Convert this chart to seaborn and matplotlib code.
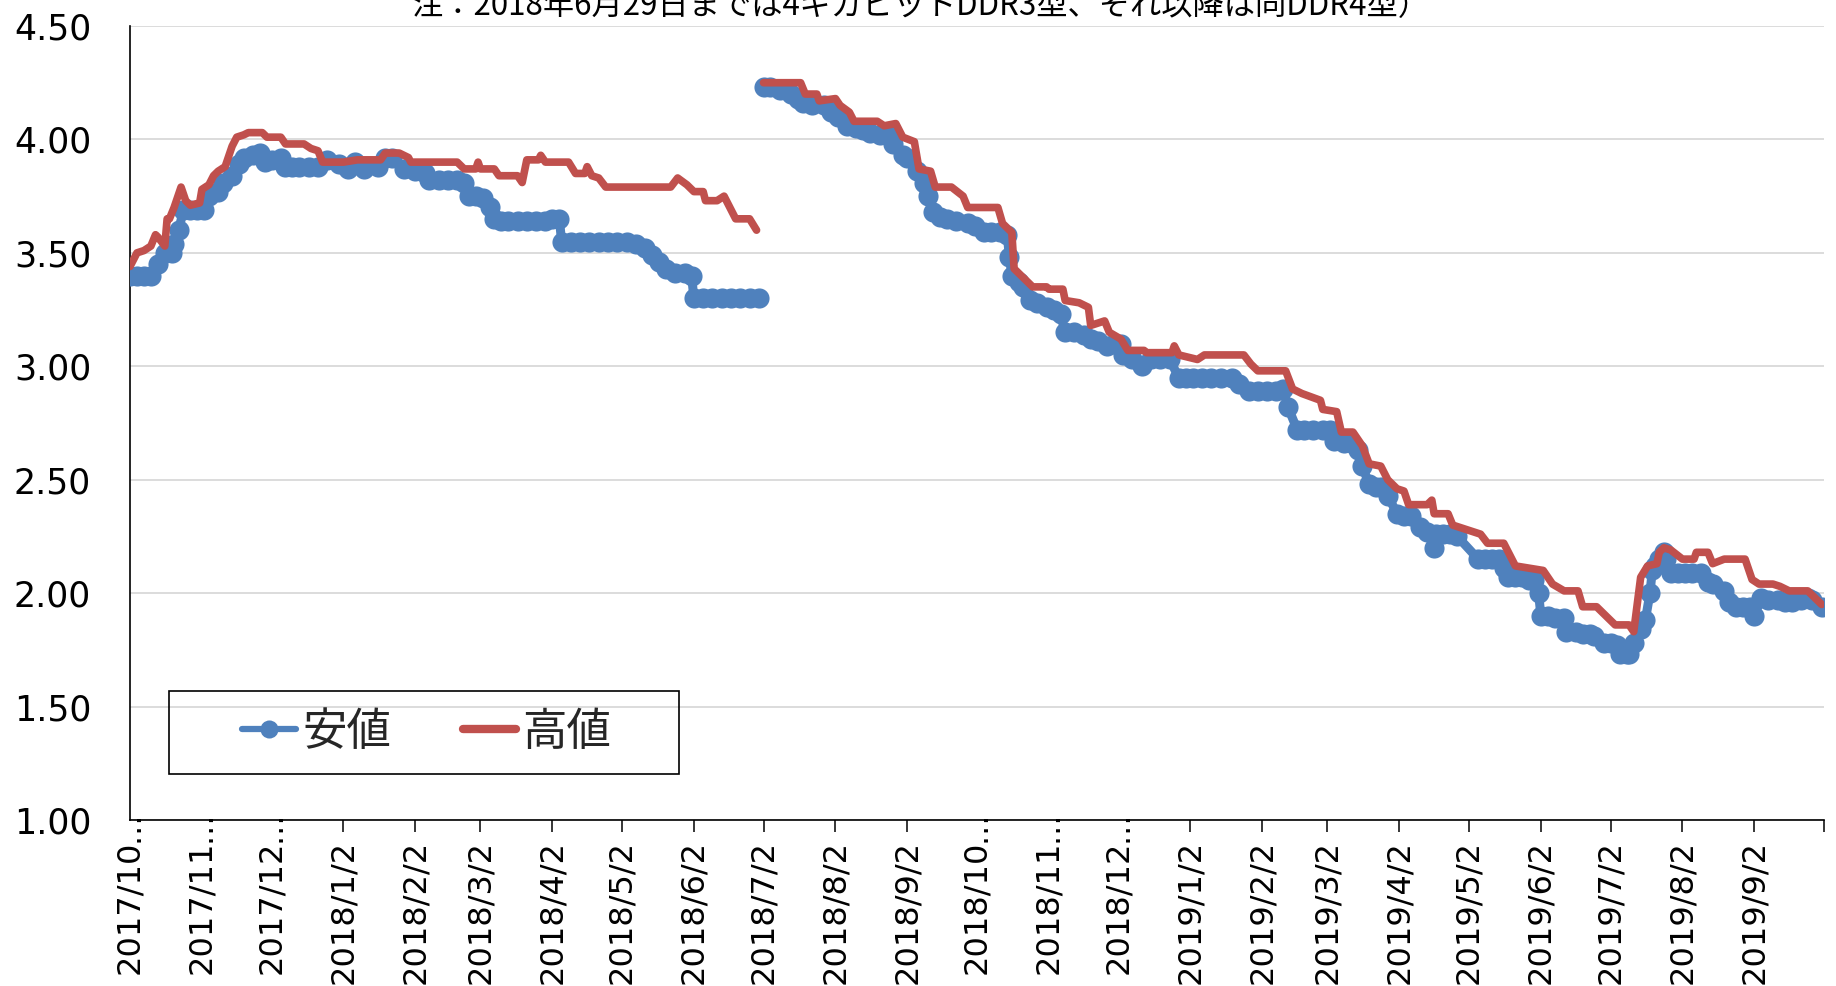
import numpy as np
import pandas as pd
import matplotlib
matplotlib.use("Agg")
import matplotlib.pyplot as plt
import matplotlib.dates as mdates
from matplotlib.lines import Line2D
from matplotlib.patches import Rectangle
import seaborn as sns

# ---------------- data ----------------
START = "2017-10-02"          # day 0 of the day offsets below
END = "2019-10-02"

TITLE = "注：2018年6月29日までは4ギガビットDDR3型、それ以降は同DDR4型）"
SERIES_LOW = "安値"
SERIES_HIGH = "高値"

# 安値 (low) – DDR3 period
low_ddr3_days = [0, 3, 6, 9, 12, 15, 18, 19, 21, 23,
                 26, 29, 32, 34, 38, 40, 44, 47, 49, 53,
                 56, 58, 61, 65, 67, 70, 73, 77, 81, 85,
                 90, 94, 97, 101, 107, 110, 113, 118, 123, 127,
                 129, 133, 137, 141, 144, 146, 149, 152, 155, 157,
                 160, 163, 167, 171, 175, 179, 182, 185, 186, 190,
                 194, 198, 202, 206, 210, 214, 218, 222, 225, 228,
                 231, 235, 239, 242, 243, 247, 251, 255, 259, 263,
                 267, 271]
low_ddr3_vals = [3.40, 3.40, 3.40, 3.40, 3.45, 3.50, 3.50, 3.54, 3.60, 3.69,
                 3.69, 3.69, 3.69, 3.75, 3.77, 3.81, 3.84, 3.89, 3.92, 3.93,
                 3.94, 3.90, 3.91, 3.92, 3.88, 3.88, 3.88, 3.88, 3.88, 3.91,
                 3.89, 3.87, 3.90, 3.87, 3.88, 3.92, 3.92, 3.87, 3.86, 3.85,
                 3.82, 3.82, 3.82, 3.82, 3.81, 3.75, 3.75, 3.74, 3.70, 3.65,
                 3.64, 3.64, 3.64, 3.64, 3.64, 3.64, 3.65, 3.65, 3.55, 3.55,
                 3.55, 3.55, 3.55, 3.55, 3.55, 3.55, 3.54, 3.52, 3.49, 3.46,
                 3.43, 3.41, 3.41, 3.40, 3.30, 3.30, 3.30, 3.30, 3.30, 3.30,
                 3.30, 3.30]

# 安値 (low) – DDR4 period
low_ddr4_days = [273, 276, 280, 285, 288, 290, 294, 299, 302, 305,
                 309, 313, 316, 319, 323, 327, 329, 333, 335, 339,
                 342, 344, 346, 349, 352, 356, 361, 364, 368, 371,
                 375, 378, 379, 380, 383, 385, 388, 391, 395, 398,
                 401, 403, 407, 411, 414, 417, 421, 424, 427, 428,
                 432, 436, 440, 444, 448, 452, 455, 458, 462, 466,
                 470, 475, 478, 482, 486, 490, 494, 497, 499, 503,
                 506, 510, 514, 517, 519, 523, 526, 529, 531, 534,
                 537, 539, 542, 546, 549, 552, 556, 559, 562, 563,
                 566, 569, 572, 581, 584, 587, 590, 592, 594, 597,
                 600, 603, 605, 607, 608, 611, 614, 618, 619, 623,
                 626, 629, 631, 635, 638, 641, 642, 645, 646, 648,
                 651, 653, 655, 656, 657, 659, 661, 662, 664, 667,
                 670, 673, 677, 680, 682, 687, 689, 692, 695, 698,
                 700, 703, 706, 710, 713, 716, 720, 723, 725, 729]
low_ddr4_vals = [4.23, 4.23, 4.22, 4.20, 4.18, 4.16, 4.15, 4.15, 4.12, 4.10,
                 4.06, 4.05, 4.04, 4.03, 4.02, 4.02, 3.98, 3.93, 3.92, 3.86,
                 3.81, 3.75, 3.68, 3.66, 3.65, 3.64, 3.63, 3.62, 3.59, 3.59,
                 3.59, 3.58, 3.48, 3.40, 3.37, 3.35, 3.29, 3.28, 3.26, 3.25,
                 3.23, 3.15, 3.15, 3.14, 3.12, 3.11, 3.09, 3.10, 3.10, 3.05,
                 3.03, 3.00, 3.03, 3.03, 3.03, 2.95, 2.95, 2.95, 2.95, 2.95,
                 2.95, 2.95, 2.92, 2.89, 2.89, 2.89, 2.89, 2.90, 2.82, 2.72,
                 2.72, 2.72, 2.72, 2.72, 2.67, 2.66, 2.66, 2.63, 2.56, 2.48,
                 2.47, 2.47, 2.43, 2.35, 2.34, 2.34, 2.29, 2.27, 2.20, 2.26,
                 2.26, 2.26, 2.25, 2.15, 2.15, 2.15, 2.15, 2.11, 2.07, 2.07,
                 2.07, 2.06, 2.06, 2.00, 1.90, 1.90, 1.89, 1.89, 1.83, 1.83,
                 1.82, 1.82, 1.81, 1.78, 1.78, 1.77, 1.73, 1.73, 1.73, 1.78,
                 1.84, 1.88, 2.00, 2.10, 2.12, 2.15, 2.18, 2.15, 2.09, 2.09,
                 2.09, 2.09, 2.09, 2.05, 2.04, 2.01, 1.96, 1.94, 1.94, 1.94,
                 1.90, 1.98, 1.97, 1.97, 1.96, 1.96, 1.97, 1.98, 1.97, 1.94]

# 高値 (high) – DDR3 period
high_ddr3_days = [0, 3, 6, 9, 11, 12, 15, 16, 17, 19,
                  21, 22, 24, 26, 30, 31, 34, 36, 38, 41,
                  42, 44, 46, 49, 51, 57, 59, 65, 67, 75,
                  78, 81, 83, 92, 98, 108, 110, 116, 120, 121,
                  141, 144, 149, 150, 151, 157, 159, 167, 169, 171,
                  176, 177, 179, 189, 192, 196, 197, 199, 202, 205,
                  219, 233, 236, 240, 243, 247, 248, 253, 256, 259,
                  261, 267, 270]
high_ddr3_vals = [3.44, 3.50, 3.51, 3.53, 3.58, 3.57, 3.53, 3.65, 3.65, 3.70,
                  3.76, 3.79, 3.73, 3.71, 3.72, 3.78, 3.80, 3.84, 3.86, 3.88,
                  3.91, 3.97, 4.01, 4.02, 4.03, 4.03, 4.01, 4.01, 3.98, 3.98,
                  3.96, 3.95, 3.90, 3.90, 3.91, 3.91, 3.94, 3.94, 3.92, 3.90,
                  3.90, 3.87, 3.87, 3.90, 3.87, 3.87, 3.84, 3.84, 3.81, 3.91,
                  3.91, 3.93, 3.90, 3.90, 3.85, 3.85, 3.88, 3.84, 3.83, 3.79,
                  3.79, 3.79, 3.83, 3.80, 3.77, 3.77, 3.73, 3.73, 3.75, 3.69,
                  3.65, 3.65, 3.60]

# 高値 (high) – DDR4 period
high_ddr4_days = [273, 289, 291, 296, 297, 304, 306, 310, 312, 322,
                  325, 330, 333, 338, 340, 345, 347, 354, 359, 361,
                  374, 376, 380, 381, 384, 389, 395, 396, 402, 403,
                  409, 413, 414, 420, 422, 427, 430, 437, 438, 449,
                  450, 452, 460, 463, 480, 483, 486, 498, 501, 505,
                  513, 514, 520, 522, 527, 531, 534, 539, 542, 546,
                  549, 551, 559, 561, 562, 568, 570, 582, 585, 592,
                  597, 609, 613, 618, 624, 626, 632, 636, 640, 646,
                  648, 651, 654, 658, 659, 661, 664, 669, 674, 675,
                  680, 682, 687, 696, 699, 702, 708, 711, 715, 723,
                  725, 728, 729]
high_ddr4_vals = [4.25, 4.25, 4.20, 4.20, 4.17, 4.18, 4.15, 4.12, 4.08, 4.08,
                  4.06, 4.07, 4.01, 3.99, 3.87, 3.86, 3.79, 3.79, 3.75, 3.70,
                  3.70, 3.63, 3.59, 3.43, 3.40, 3.35, 3.35, 3.34, 3.34, 3.29,
                  3.28, 3.26, 3.18, 3.20, 3.15, 3.12, 3.07, 3.07, 3.06, 3.06,
                  3.09, 3.05, 3.03, 3.05, 3.05, 3.01, 2.98, 2.98, 2.90, 2.88,
                  2.85, 2.81, 2.80, 2.71, 2.71, 2.65, 2.57, 2.56, 2.50, 2.46,
                  2.45, 2.39, 2.39, 2.41, 2.35, 2.35, 2.30, 2.26, 2.22, 2.22,
                  2.12, 2.10, 2.04, 2.01, 2.01, 1.94, 1.94, 1.90, 1.86, 1.86,
                  1.83, 2.07, 2.12, 2.13, 2.18, 2.20, 2.19, 2.15, 2.15, 2.18,
                  2.18, 2.13, 2.15, 2.15, 2.06, 2.04, 2.04, 2.03, 2.01, 2.01,
                  1.99, 1.96, 1.95]

x_tick_dates = ["2017-10-02", "2017-11-02", "2017-12-02", "2018-01-02", "2018-02-02",
                "2018-03-02", "2018-04-02", "2018-05-02", "2018-06-02", "2018-07-02",
                "2018-08-02", "2018-09-02", "2018-10-02", "2018-11-02", "2018-12-02",
                "2019-01-02", "2019-02-02", "2019-03-02", "2019-04-02", "2019-05-02",
                "2019-06-02", "2019-07-02", "2019-08-02", "2019-09-02", "2019-10-02"]
x_tick_labels = ["2017/10", "2017/11", "2017/12", "2018/1/2", "2018/2/2",
                 "2018/3/2", "2018/4/2", "2018/5/2", "2018/6/2", "2018/7/2",
                 "2018/8/2", "2018/9/2", "2018/10", "2018/11", "2018/12",
                 "2019/1/2", "2019/2/2", "2019/3/2", "2019/4/2", "2019/5/2",
                 "2019/6/2", "2019/7/2", "2019/8/2", "2019/9/2", ""]
truncated_labels = [0, 1, 2, 12, 13, 14]   # labels shown cut off with an ellipsis
y_ticks = [1.0, 1.5, 2.0, 2.5, 3.0, 3.5, 4.0, 4.5]

# ---------------- style ----------------
BLUE = "#4F81BD"
RED = "#C0504D"
GRID = "#D9D9D9"

sns.set_theme(style="white")
plt.rcParams["font.family"] = ["DejaVu Sans", "Noto Sans CJK JP"]
CJK = ["Noto Sans CJK JP", "DejaVu Sans"]

W, H = 1836, 986
fig = plt.figure(figsize=(W / 100, H / 100), dpi=100)
ax = fig.add_axes([130 / W, 166 / H, 1694 / W, 794 / H])


def frame(days, vals):
    d = pd.Timestamp(START) + pd.to_timedelta(np.asarray(days), unit="D")
    return pd.DataFrame({"date": d, "value": vals})


for days, vals in [(low_ddr3_days, low_ddr3_vals), (low_ddr4_days, low_ddr4_vals)]:
    sns.lineplot(data=frame(days, vals), x="date", y="value", ax=ax,
                 color=BLUE, lw=6.5, marker="o", markersize=14.5,
                 markeredgecolor=BLUE, markeredgewidth=0,
                 solid_capstyle="round", solid_joinstyle="round",
                 estimator=None, sort=False, legend=False, zorder=3)

for days, vals in [(high_ddr3_days, high_ddr3_vals), (high_ddr4_days, high_ddr4_vals)]:
    sns.lineplot(data=frame(days, vals), x="date", y="value", ax=ax,
                 color=RED, lw=5.5, estimator=None, sort=False, legend=False,
                 solid_capstyle="round", solid_joinstyle="round", zorder=4)

# axes
ax.set_xlim(mdates.date2num(pd.Timestamp(START)), mdates.date2num(pd.Timestamp(END)))
ax.set_ylim(1.0, 4.5)
ax.set_yticks(y_ticks)
ax.set_yticklabels([f"{v:.2f}" for v in y_ticks])
ax.set_xticks(mdates.date2num(pd.to_datetime(x_tick_dates)))
ax.set_xticklabels(x_tick_labels, rotation=90)
ax.set_xlabel("")
ax.set_ylabel("")

ax.yaxis.grid(True, color=GRID, lw=1.3)
ax.xaxis.grid(False)
ax.set_axisbelow(True)
for s in ["top", "right"]:
    ax.spines[s].set_visible(False)
for s in ["left", "bottom"]:
    ax.spines[s].set_color("black")
    ax.spines[s].set_linewidth(1.2)

ax.tick_params(axis="x", direction="out", length=8.5, width=1.1, color="black",
               pad=6, labelsize=23, labelcolor="black", bottom=True)
ax.tick_params(axis="y", length=0, pad=28, labelsize=25, labelcolor="black")

ticks = ax.xaxis.get_major_ticks()
for i in truncated_labels:
    ticks[i].tick1line.set_visible(False)
    ax.text(mdates.date2num(pd.Timestamp(x_tick_dates[i])), -0.008, "…",
            transform=ax.get_xaxis_transform(), rotation=90,
            ha="center", va="center", fontsize=22, color="black", clip_on=False)

# title note (partly cut off at the top, as in the reference)
fig.text(921 / W, 1 - 15 / H, TITLE, ha="center", va="baseline",
         fontsize=22.5, family=CJK, color="black")

# legend
handles = [Line2D([], [], color=BLUE, lw=4.5, marker="o", markersize=13,
                  markeredgewidth=0, solid_capstyle="round"),
           Line2D([], [], color=RED, lw=6, solid_capstyle="round")]
fig.legend(handles, [SERIES_LOW, SERIES_HIGH], loc="center",
           bbox_to_anchor=(427 / W, 1 - 732 / H), ncol=2, frameon=False,
           handlelength=1.2, handletextpad=0.15, columnspacing=1.6,
           prop={"family": CJK, "size": 32})
fig.add_artist(Rectangle((169 / W, 1 - 774 / H), 510 / W, 83 / H,
                         transform=fig.transFigure, fill=False,
                         edgecolor="black", lw=1.2, zorder=5))

fig.savefig("out.png", dpi=100)
